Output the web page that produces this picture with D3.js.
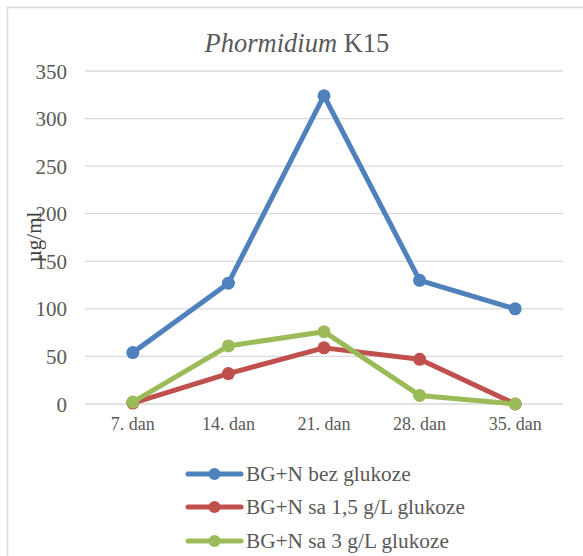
<!DOCTYPE html>
<html><head><meta charset="utf-8">
<script src="https://cdn.jsdelivr.net/npm/d3@7"></script>
<style>body{margin:0;background:#fff}svg{display:block}
svg text, svg tspan{font-family:"Liberation Serif","Times New Roman","DejaVu Serif",serif !important;}
</style>
</head><body>
<script>
const categories = ["7. dan","14. dan","21. dan","28. dan","35. dan"];
const seriesNames = ["BG+N bez glukoze","BG+N sa 1,5 g/L glukoze","BG+N sa 3 g/L glukoze"];
const bezGlukoze = [54, 127, 324, 130, 100];
const sa15 = [1, 32, 59, 47, 0];
const sa3 = [2, 61, 76, 9, 0];
const yTicks = [0,50,100,150,200,250,300,350];
const colors = ["#4f81bd","#c0504d","#9bbb59"];

const W=583,H=556;
const svg=d3.select("body").append("svg").attr("width",W).attr("height",H);
svg.append("rect").attr("x",7.5).attr("y",7.5).attr("width",580).attr("height",555)
  .attr("fill","#fff").attr("stroke","#d9d9d9").attr("stroke-width",1.5);

const x=d3.scaleBand().domain(categories).range([85,563]);
const y=d3.scaleLinear().domain([0,350]).range([404,71]);

svg.append("g").selectAll("line").data(yTicks).join("line")
  .attr("x1",85).attr("x2",563).attr("y1",d=>y(d)).attr("y2",d=>y(d))
  .attr("stroke","#d9d9d9").attr("stroke-width",1.3);

const yAxis=d3.axisLeft(y).tickValues(yTicks).tickSize(0).tickPadding(0);
const ya=svg.append("g").attr("transform","translate(67,0)").call(yAxis);
ya.select(".domain").remove();
ya.selectAll("text").attr("font-size","21px").attr("fill","#595959").attr("dy","0.34em");

const xAxis=d3.axisBottom(x).tickSize(0).tickPadding(0);
const xa=svg.append("g").attr("transform","translate(0,417)").call(xAxis);
xa.select(".domain").remove();
xa.selectAll("text").attr("font-size","18px").attr("fill","#595959").attr("dy","0.71em");

const data=[bezGlukoze,sa15,sa3];
const line=d3.line().x((d,i)=>x(categories[i])+x.bandwidth()/2).y(d=>y(d));
data.forEach((s,k)=>{
  svg.append("path").datum(s).attr("d",line).attr("fill","none")
    .attr("stroke",colors[k]).attr("stroke-width",5).attr("stroke-linejoin","round").attr("stroke-linecap","round");
  svg.selectAll(null).data(s).join("circle")
    .attr("cx",(d,i)=>x(categories[i])+x.bandwidth()/2).attr("cy",d=>y(d)).attr("r",6.5)
    .attr("fill",colors[k]);
});

// title
const t=svg.append("text").attr("x",297).attr("y",52).attr("text-anchor","middle")
  .attr("font-size","26.5px").attr("fill","#595959");
t.append("tspan").attr("font-style","italic").text("Phormidium");
t.append("tspan").text(" K15");

// y label
svg.append("text").attr("transform","translate(41,237) rotate(-90)").attr("text-anchor","middle")
  .attr("font-size","21px").attr("fill","#404040").text("µg/ml");

// legend
const ly=[474,507,541];
seriesNames.forEach((n,k)=>{
  svg.append("line").attr("x1",188).attr("x2",241).attr("y1",ly[k]).attr("y2",ly[k])
    .attr("stroke",colors[k]).attr("stroke-width",5).attr("stroke-linecap","round");
  svg.append("circle").attr("cx",214.5).attr("cy",ly[k]).attr("r",6).attr("fill",colors[k]);
  svg.append("text").attr("x",246).attr("y",ly[k]).attr("dy","0.35em")
    .attr("font-size","21.3px").attr("fill","#595959").text(n);
});
</script>
</body></html>
